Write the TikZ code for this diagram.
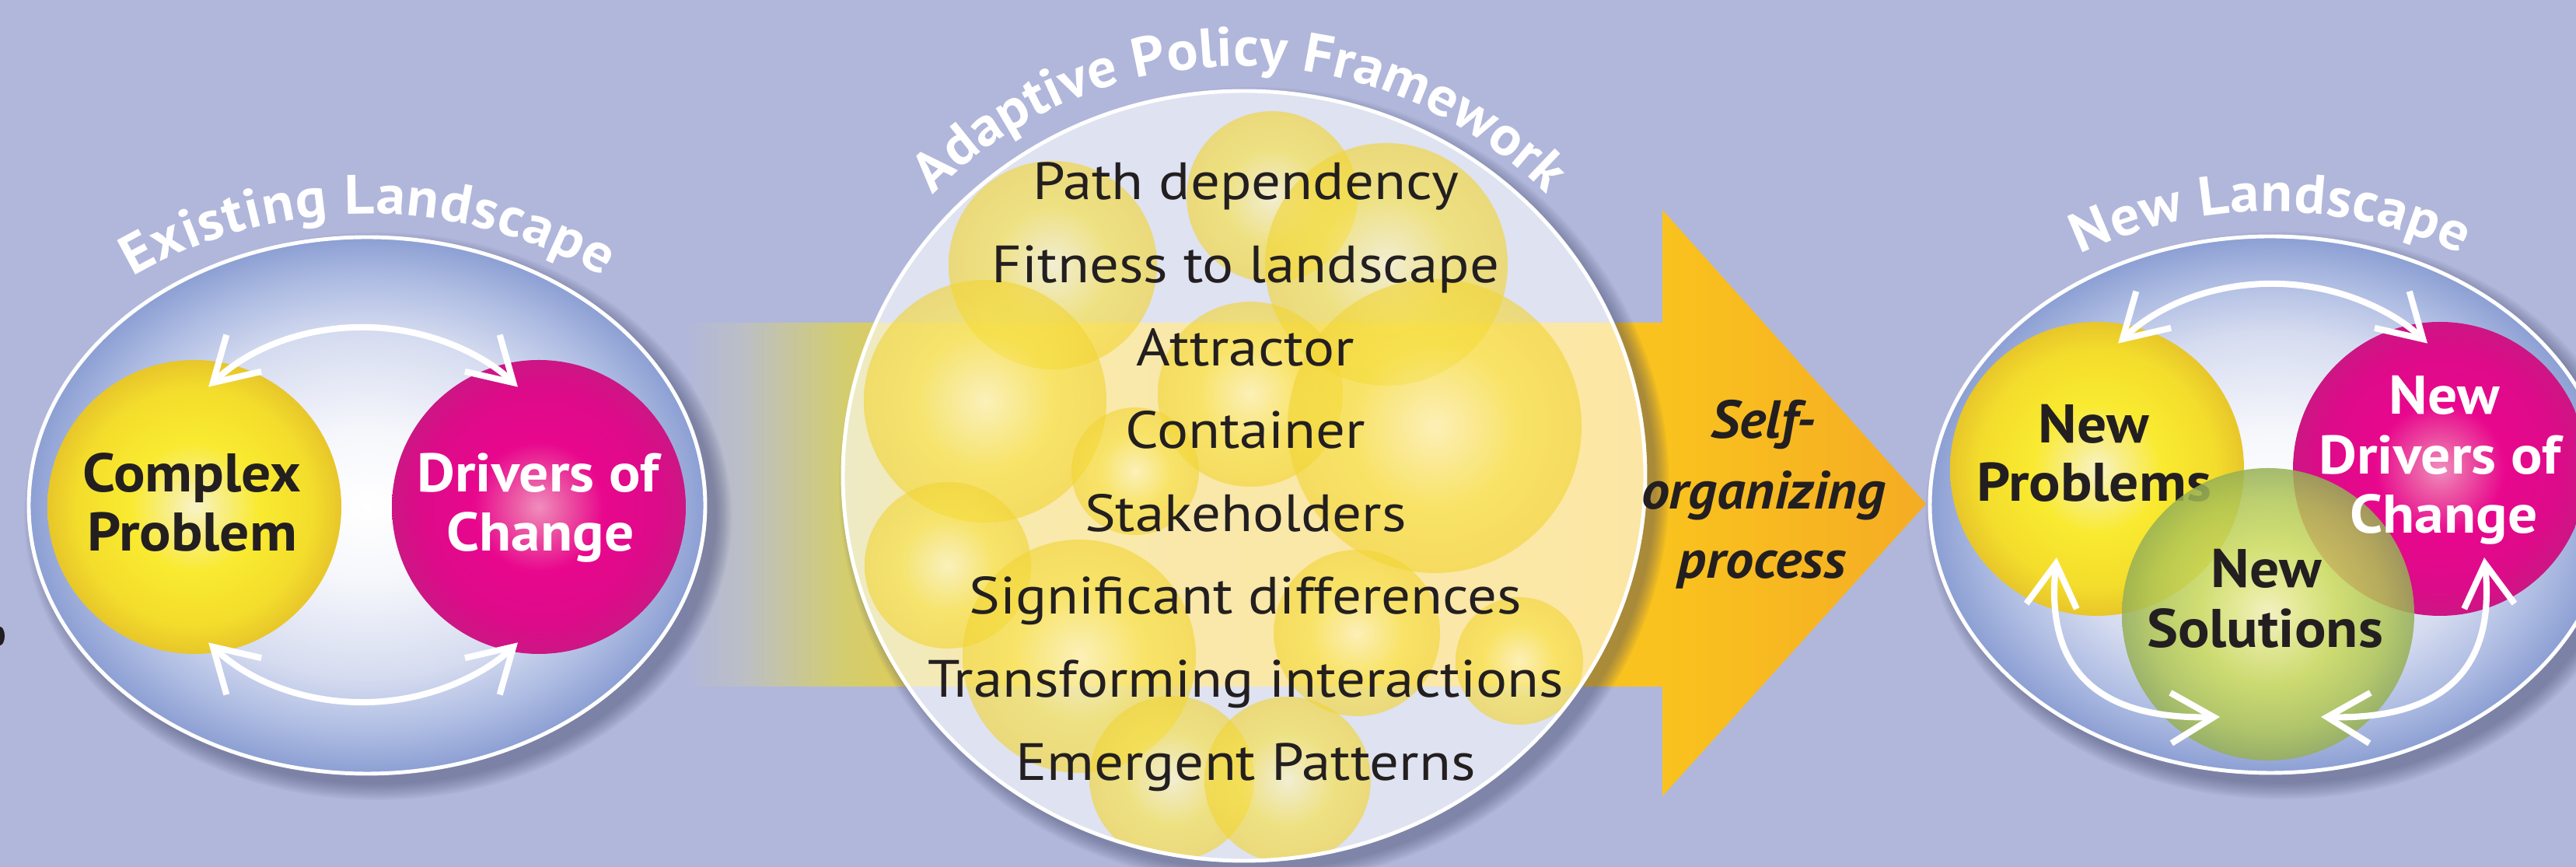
\documentclass[tikz,border=0pt]{standalone}
\usepackage{fontspec}
\setmainfont{PT Sans}
\newfontfamily\lstfam{PT Sans}[FakeStretch=1.11]
\newfontfamily\lblfam{PT Sans}[FakeStretch=1.08]
\newfontfamily\soffam{PT Sans}[FakeStretch=1.05]
\newfontfamily\ttlfam{PT Sans}[FakeStretch=1.05]
\usetikzlibrary{arrows.meta,decorations.text}

\definecolor{bgc}{HTML}{B1B7DB}
\definecolor{txtc}{HTML}{231F20}
\definecolor{shadowc}{HTML}{40446A}
\definecolor{ellA}{HTML}{F6F7FC}
\definecolor{ellB}{HTML}{D6DCF0}
\definecolor{ellC}{HTML}{AFBDE3}
\definecolor{ellD}{HTML}{8C9FD3}
\definecolor{yA}{HTML}{F8F3C8}
\definecolor{yB}{HTML}{F8EE8E}
\definecolor{yC}{HTML}{F9EA30}
\definecolor{yD}{HTML}{F4DD2C}
\definecolor{yE}{HTML}{E7C62A}
\definecolor{mA}{HTML}{F08DBE}
\definecolor{mB}{HTML}{EC5CA6}
\definecolor{mC}{HTML}{E8078D}
\definecolor{mD}{HTML}{DD0B89}
\definecolor{mE}{HTML}{CC1684}
\definecolor{gA}{HTML}{F4F2BA}
\definecolor{gB}{HTML}{E4E98A}
\definecolor{gC}{HTML}{CBDB5C}
\definecolor{gD}{HTML}{B0C656}
\definecolor{gE}{HTML}{96B056}
\definecolor{bubA}{HTML}{FFF6C0}
\definecolor{bubB}{HTML}{FAEC8A}
\definecolor{bubC}{HTML}{F8E140}
\definecolor{bubD}{HTML}{F2D535}
\definecolor{arA}{HTML}{BCBFC4}
\definecolor{arB}{HTML}{D3CD70}
\definecolor{arC}{HTML}{EFC931}
\definecolor{arD}{HTML}{F9C21E}
\definecolor{arE}{HTML}{F5AC24}

\pgfdeclareradialshading{ellshade}{\pgfpointorigin}{color(0bp)=(white); color(7bp)=(ellA); color(16bp)=(ellB); color(21bp)=(ellC); color(25bp)=(ellD); color(50bp)=(ellD)}
\pgfdeclareradialshading{yshade}{\pgfpointorigin}{color(0bp)=(yA); color(4bp)=(yB); color(11bp)=(yC); color(20bp)=(yD); color(25bp)=(yE); color(50bp)=(yE)}
\pgfdeclareradialshading{mshade}{\pgfpointorigin}{color(0bp)=(mA); color(4bp)=(mB); color(11bp)=(mC); color(20bp)=(mD); color(25bp)=(mE); color(50bp)=(mE)}
\pgfdeclareradialshading{gshade}{\pgfpointorigin}{color(0bp)=(gA); color(5bp)=(gB); color(12bp)=(gC); color(20bp)=(gD); color(25bp)=(gE); color(50bp)=(gE)}
\pgfdeclareradialshading{bubshade}{\pgfpointorigin}{color(0bp)=(bubA); color(6bp)=(bubB); color(14bp)=(bubC); color(25bp)=(bubD); color(50bp)=(bubD)}
\pgfdeclarehorizontalshading{arrowshade}{100bp}{color(0bp)=(bgc); color(25bp)=(bgc); color(27.5bp)=(arA); color(31.4bp)=(arB); color(38bp)=(arC); color(64.5bp)=(arD); color(75bp)=(arE); color(100bp)=(arE)}

\newcommand{\lblF}{\lblfam\fontsize{19.9pt}{22pt}\selectfont\bfseries}
\newcommand{\lstF}{\lstfam\fontsize{19.2pt}{21pt}\selectfont}
\newcommand{\ttlF}{\ttlfam\fontsize{20.3pt}{22pt}\selectfont\bfseries}
\newcommand{\sofF}{\soffam\fontsize{19.6pt}{21pt}\selectfont\bfseries\itshape}

\tikzset{
  lbl/.style={anchor=base, inner sep=0pt, font=\lblF, text=txtc},
  lblw/.style={anchor=base, inner sep=0pt, font=\lblF, text=white},
  lst/.style={anchor=base, inner sep=0pt, font=\lstF, text=txtc},
  sof/.style={anchor=base, inner sep=0pt, font=\sofF, text=txtc},
  ball/.style={circle, inner sep=0pt, minimum size=3.78cm, shade},
  warrow/.style={draw=white, line width=2.3pt,
    {Straight Barb[length=5.5mm,width=6.5mm]}-{Straight Barb[length=5.5mm,width=6.5mm]}},
  rim/.style={draw=white, line width=1.4pt},
  ttl/.style={decorate, decoration={text along path, text align={fit to path},
    text={|\ttlF\color{white}|#1}}}
}

\begin{document}
\begin{tikzpicture}
\useasboundingbox (0,0) rectangle (33.13,11.15);
\clip (0,0) rectangle (33.13,11.15);
\fill[bgc] (0,0) rectangle (33.13,11.15);
\fill[txtc] (0,2.97) ellipse (0.06 and 0.12);

% big block arrow
\shade[shading=arrowshade] (8.79,7.00) -- (21.38,7.00) -- (21.38,8.45) -- (24.77,4.67)
  -- (21.38,0.91) -- (21.38,2.32) -- (8.79,2.32) -- cycle;

% ---------- Existing landscape ----------
\foreach \k in {0,...,9}
  \fill[shadowc, fill opacity=0.055] (4.86,4.51) ellipse ({4.35+0.022*\k} and {3.45+0.022*\k});
\shade[shading=ellshade] (4.72,4.65) ellipse (4.35 and 3.45);
\draw[rim] (4.72,4.65) ellipse (4.35 and 3.45);
\node[ball, shading=yshade] (cp) at (2.50,4.63) {};
\node[ball, shading=mshade] (dc) at (6.93,4.63) {};
\node[lbl] (cp1) at (2.47,4.82) {Complex};
\node[lbl] (cp2) at (2.47,4.06) {Problem};
\node[lblw] (dc1) at (6.92,4.82) {Drivers of};
\node[lblw] (dc2) at (6.95,4.06) {Change};
\coordinate (la1) at (2.681,6.174);
\coordinate (lb1) at (2.681,2.886);
\draw[warrow] (la1) arc[start angle=137, end angle=43, x radius=2.72, y radius=2.41];
\draw[warrow] (lb1) arc[start angle=223, end angle=317, x radius=2.72, y radius=2.41];
\path[ttl={Existing Landscape}] (4.73,2.35) ++(120:6.05) arc[start angle=120, end angle=60, radius=6.05];

% ---------- Adaptive policy framework ----------
\begin{scope}
  \clip (0,0) -- (0,11.15) -- (33.13,11.15) -- (33.13,0) -- cycle (16,5.03) ellipse (5.16 and 4.95);
  \foreach \k in {0,...,9}
    \fill[shadowc, fill opacity=0.05] (16.13,4.90) ellipse ({5.16+0.02*\k} and {4.95+0.02*\k});
\end{scope}
\fill[white, fill opacity=0.6] (16,5.03) ellipse (5.16 and 4.95);
\begin{scope}
  \clip (16,5.03) ellipse (5.16 and 4.95);
  \foreach \x/\y/\r in {16.36/8.62/1.10, 13.54/7.74/1.34, 17.83/7.75/1.56, 12.67/5.99/1.56,
      16.08/6.08/1.19, 18.45/5.67/1.89, 14.60/5.09/0.82, 12.19/3.88/1.07, 13.88/2.71/1.50,
      17.45/3.01/1.07, 19.54/2.65/0.82, 15.07/1.14/1.06, 16.56/1.12/1.07}
    \shade[shading=bubshade, fill opacity=0.62] (\x,\y) circle (\r);
\end{scope}
\draw[rim] (16,5.03) ellipse (5.16 and 4.95);
\node[lst] (m1) at (16.02,8.580) {Path dependency};
\node[lst] (m2) at (16.02,7.514) {Fitness to landscape};
\node[lst] (m3) at (16.02,6.448) {Attractor};
\node[lst] (m4) at (16.02,5.382) {Container};
\node[lst] (m5) at (16.02,4.316) {Stakeholders};
\node[lst] (m6) at (16.02,3.250) {Significant differences};
\node[lst] (m7) at (16.02,2.184) {Transforming interactions};
\node[lst] (m8) at (16.02,1.118) {Emergent Patterns};
\path[ttl={Adaptive Policy Framework}] (15.94,4.77) ++(135.5:5.53) arc[start angle=135.5, end angle=44.5, radius=5.53];

\node[sof] (so1) at (22.68,5.51) {Self-};
\node[sof] (so2) at (22.68,4.60) {organizing};
\node[sof] (so3) at (22.66,3.71) {process};

% ---------- New landscape ----------
\foreach \k in {0,...,9}
  \fill[shadowc, fill opacity=0.055] (29.34,4.52) ellipse ({4.38+0.022*\k} and {3.45+0.022*\k});
\shade[shading=ellshade] (29.20,4.66) ellipse (4.38 and 3.45);
\draw[rim] (29.20,4.66) ellipse (4.38 and 3.45);
\node[ball, shading=yshade] (np) at (26.97,5.12) {};
\node[ball, shading=mshade] (nd) at (31.38,5.12) {};
\node[lbl] (np1) at (26.93,5.45) {New};
\node[lbl] (np2) at (26.93,4.70) {Problems};
\node[ball, shading=gshade, fill opacity=0.85, minimum size=3.76cm] (ns) at (29.17,3.25) {};
\node[lblw] (nd1) at (31.44,5.82) {New};
\node[lblw] (nd2) at (31.38,5.05) {Drivers of};
\node[lblw] (nd3) at (31.43,4.29) {Change};
\node[lbl] (ns1) at (29.15,3.59) {New};
\node[lbl] (ns2) at (29.13,2.82) {Solutions};
\coordinate (ra1) at (27.241,6.734);
\draw[warrow] (ra1) arc[start angle=137, end angle=43, x radius=2.72, y radius=2.41];
\coordinate (rl1) at (26.45,3.98);
\coordinate (rl2) at (28.55,1.93);
\draw[warrow] (rl1) .. controls (26.28,2.35) and (27.20,1.90) .. (rl2);
\coordinate (rr1) at (31.95,3.98);
\coordinate (rr2) at (29.85,1.93);
\draw[warrow] (rr1) .. controls (32.12,2.35) and (31.20,1.90) .. (rr2);
\path[ttl={New Landscape}] (29.20,2.70) ++(115.3:5.73) arc[start angle=115.3, end angle=64.7, radius=5.73];
\end{tikzpicture}
\end{document}
